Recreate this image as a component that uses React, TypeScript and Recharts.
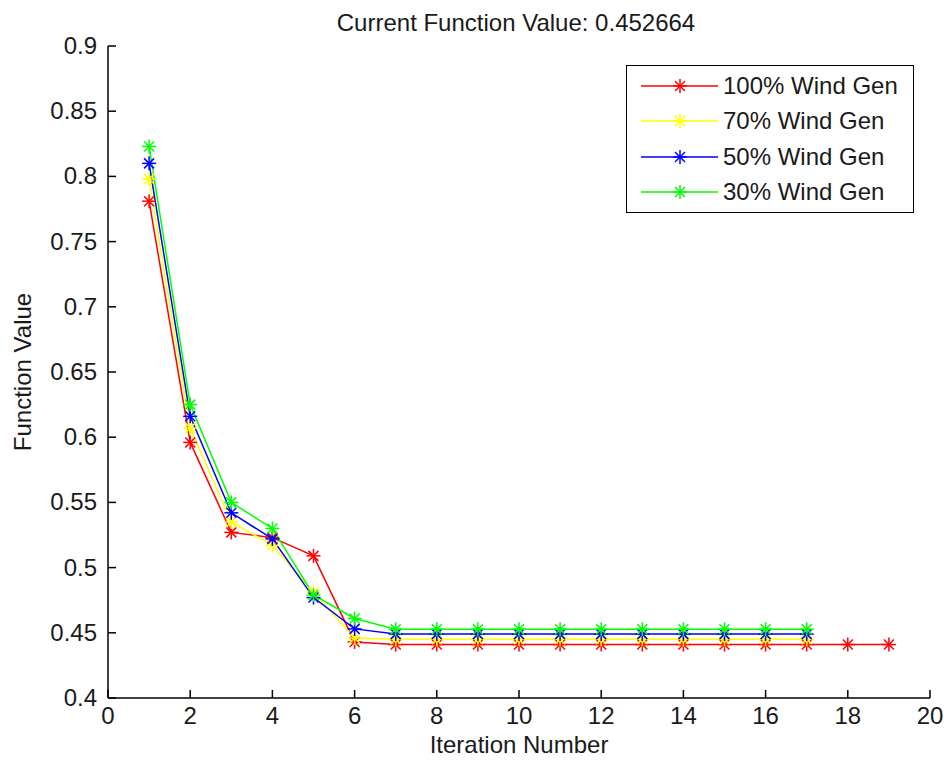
import { LineChart, Line, XAxis, YAxis } from "recharts";

const iterations = [1, 2, 3, 4, 5, 6, 7, 8, 9, 10, 11, 12, 13, 14, 15, 16, 17, 18, 19];

const wind100 = [0.781, 0.596, 0.527, 0.523, 0.509, 0.443, 0.441, 0.441, 0.441, 0.441, 0.441, 0.441, 0.441, 0.441, 0.441, 0.441, 0.441, 0.441, 0.441];
const wind70 = [0.798, 0.607, 0.535, 0.517, 0.481, 0.446, 0.445, 0.445, 0.445, 0.445, 0.445, 0.445, 0.445, 0.445, 0.445, 0.445, 0.445];
const wind50 = [0.81, 0.616, 0.542, 0.522, 0.477, 0.453, 0.449, 0.449, 0.449, 0.449, 0.449, 0.449, 0.449, 0.449, 0.449, 0.449, 0.449];
const wind30 = [0.823, 0.625, 0.55, 0.53, 0.479, 0.461, 0.4527, 0.4527, 0.4527, 0.4527, 0.4527, 0.4527, 0.4527, 0.4527, 0.4527, 0.4527, 0.4527];

const xTicks = [0, 2, 4, 6, 8, 10, 12, 14, 16, 18, 20];
const yTicks = [0.4, 0.45, 0.5, 0.55, 0.6, 0.65, 0.7, 0.75, 0.8, 0.85, 0.9];

const seriesList = [
  { key: "w100", name: "100% Wind Gen", color: "#ff0000" },
  { key: "w70", name: "70% Wind Gen", color: "#ffff00" },
  { key: "w50", name: "50% Wind Gen", color: "#0000ff" },
  { key: "w30", name: "30% Wind Gen", color: "#00ff00" },
];

const chartData = iterations.map((it, i) => ({
  iter: it,
  w100: wind100[i],
  w70: wind70[i],
  w50: wind50[i],
  w30: wind30[i],
}));

const FONT = "'Liberation Sans', Arial, sans-serif";
const TEXT = "#1a1a1a";

// matlab style asterisk marker
const Star = ({ cx, cy, stroke }: any) => {
  if (cx == null || cy == null || isNaN(cy)) return null;
  const r = 7;
  const d = 5;
  return (
    <g stroke={stroke} strokeWidth={1.5}>
      <line x1={cx - r} y1={cy} x2={cx + r} y2={cy} />
      <line x1={cx} y1={cy - r} x2={cx} y2={cy + r} />
      <line x1={cx - d} y1={cy - d} x2={cx + d} y2={cy + d} />
      <line x1={cx - d} y1={cy + d} x2={cx + d} y2={cy - d} />
    </g>
  );
};

const YTick = ({ x, y, payload }: any) => (
  <g>
    <line x1={x + 11} y1={y} x2={x + 19} y2={y} stroke="#000" strokeWidth={1.5} />
    <text x={x} y={y} dy={8} textAnchor="end" fontFamily={FONT} fontSize={24} fill={TEXT}>
      {payload.value}
    </text>
  </g>
);

const XTick = ({ x, y, payload }: any) => (
  <g>
    <line x1={x} y1={y - 8} x2={x} y2={y - 16} stroke="#000" strokeWidth={1.5} />
    <text x={x} y={y} dy={18} textAnchor="middle" fontFamily={FONT} fontSize={24} fill={TEXT}>
      {payload.value}
    </text>
  </g>
);

const LegendBox = () => (
  <div
    style={{
      position: "absolute",
      left: 626,
      top: 65,
      border: "1.5px solid #000",
      background: "#fff",
      width: 288,
      height: 148,
      boxSizing: "border-box",
      paddingTop: 2,
    }}
  >
    {seriesList.map((s) => (
      <div key={s.key} style={{ display: "flex", alignItems: "center", height: 35.5 }}>
        <svg width={96} height={20}>
          <line x1={14} y1={10} x2={91} y2={10} stroke={s.color} strokeWidth={1.5} />
          <Star cx={53} cy={10} stroke={s.color} />
        </svg>
        <span style={{ fontFamily: FONT, fontSize: 24, color: TEXT, lineHeight: "24px" }}>{s.name}</span>
      </div>
    ))}
  </div>
);

export default function App() {
  return (
    <div style={{ position: "absolute", left: 0, top: 0, width: 944, height: 765, background: "#fff" }}>
      <div
        style={{
          position: "absolute",
          left: 0,
          width: 1032,
          top: 9,
          textAlign: "center",
          fontFamily: FONT,
          fontSize: 24,
          color: TEXT,
        }}
      >
        Current Function Value: 0.452664
      </div>
      <LineChart
        width={944}
        height={765}
        data={chartData}
        margin={{ top: 46, right: 14, bottom: 27, left: 48 }}
      >
        <XAxis
          dataKey="iter"
          type="number"
          domain={[0, 20]}
          ticks={xTicks}
          height={40}
          axisLine={{ stroke: "#000", strokeWidth: 1.5 }}
          tickLine={false}
          tickSize={0}
          tickMargin={8}
          tick={<XTick />}
          label={{
            value: "Iteration Number",
            position: "bottom",
            offset: -2,
            style: { fontFamily: FONT, fontSize: 24, fill: TEXT },
          }}
        />
        <YAxis
          type="number"
          domain={[0.4, 0.9]}
          ticks={yTicks}
          width={60}
          axisLine={{ stroke: "#000", strokeWidth: 1.5 }}
          tickLine={false}
          tickSize={0}
          tickMargin={11}
          tick={<YTick />}
          label={{
            value: "Function Value",
            angle: -90,
            position: "insideLeft",
            offset: -26,
            style: { textAnchor: "middle", fontFamily: FONT, fontSize: 24, fill: TEXT },
          }}
        />
        {seriesList.map((s) => (
          <Line
            key={s.key}
            dataKey={s.key}
            name={s.name}
            stroke={s.color}
            strokeWidth={1.5}
            type="linear"
            dot={<Star />}
            activeDot={false}
            isAnimationActive={false}
          />
        ))}
      </LineChart>
      <LegendBox />
    </div>
  );
}
